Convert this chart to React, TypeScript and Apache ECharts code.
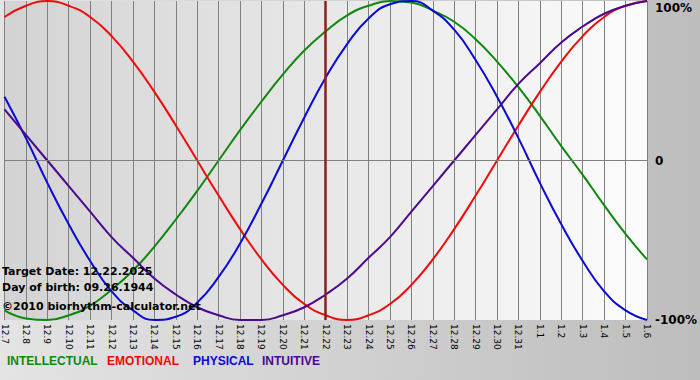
import React, { useEffect, useRef } from 'react';
import * as echarts from 'echarts';

// Day labels (month.day)
const dates = [
  '12.7', '12.8', '12.9', '12.10', '12.11', '12.12', '12.13', '12.14', '12.15', '12.16',
  '12.17', '12.18', '12.19', '12.20', '12.21', '12.22', '12.23', '12.24', '12.25', '12.26',
  '12.27', '12.28', '12.29', '12.30', '12.31', '1.1', '1.2', '1.3', '1.4', '1.5', '1.6',
];

// Values (-1 = -100%, 1 = 100%)
const intellectual = [
  -0.94, -0.99, -1.0, -0.97, -0.91, -0.81, -0.69, -0.54, -0.37, -0.19,
  0.0, 0.19, 0.37, 0.54, 0.69, 0.81, 0.91, 0.97, 1.0, 0.99,
  0.94, 0.87, 0.76, 0.62, 0.46, 0.28, 0.09, -0.09, -0.28, -0.46, -0.62,
];
const emotional = [
  0.9, 0.97, 1.0, 0.97, 0.9, 0.78, 0.62, 0.43, 0.22, 0.0,
  -0.22, -0.43, -0.62, -0.78, -0.9, -0.97, -1.0, -0.97, -0.9, -0.78,
  -0.62, -0.43, -0.22, 0.0, 0.22, 0.43, 0.62, 0.78, 0.9, 0.97, 1.0,
];
const physical = [
  0.4, 0.14, -0.14, -0.4, -0.63, -0.82, -0.94, -1.0, -0.98, -0.89,
  -0.73, -0.52, -0.27, 0.0, 0.27, 0.52, 0.73, 0.89, 0.98, 1.0,
  0.94, 0.82, 0.63, 0.4, 0.14, -0.14, -0.4, -0.63, -0.82, -0.94, -1.0,
];
const intuitive = [
  0.32, 0.16, 0.0, -0.16, -0.32, -0.48, -0.61, -0.74, -0.84, -0.92,
  -0.97, -1.0, -1.0, -0.97, -0.92, -0.84, -0.74, -0.61, -0.48, -0.32,
  -0.16, 0.0, 0.16, 0.32, 0.48, 0.61, 0.74, 0.84, 0.92, 0.97, 1.0,
];

const seriesNames = ['INTELLECTUAL', 'EMOTIONAL', 'PHYSICAL', 'INTUITIVE'];
const seriesData = [intellectual, emotional, physical, intuitive];
const seriesColors = ['#0f870f', '#ee0a0a', '#0a0ad2', '#4b0a8c'];

const targetDay = '12.22';
const infoLines = ['Target Date: 12.22.2025', 'Day of birth: 09.26.1944', '\u00a92010 biorhythm-calculator.net'];
const yTickLabels: Record<string, string> = { '1': '100%', '0': '0', '-1': '-100%' };

export default function App() {
  const ref = useRef<HTMLDivElement>(null);

  useEffect(() => {
    if (!ref.current) return;
    const chart = echarts.init(ref.current, null, { renderer: 'svg' });

    const infoY = [271, 287, 306];
    const legendX = [7, 107, 193, 262];

    const series: any[] = seriesNames.map((name, i) => ({
      name,
      type: 'line',
      data: seriesData[i],
      smooth: true,
      symbol: 'none',
      lineStyle: { color: seriesColors[i], width: 2 },
      itemStyle: { color: seriesColors[i] },
      z: 3,
    }));

    series.unshift({
      name: 'markers',
      type: 'line',
      data: [],
      symbol: 'none',
      z: 2,
      markLine: {
        silent: true,
        symbol: ['none', 'none'],
        label: { show: false },
        animation: false,
        data: [
          { yAxis: 0, lineStyle: { color: '#808080', width: 1, type: 'solid' } },
          { xAxis: targetDay, lineStyle: { color: '#862020', width: 2.5, type: 'solid' } },
        ],
      },
    });

    const graphic: any[] = [];
    infoLines.forEach((t, i) => {
      graphic.push({
        type: 'text',
        x: 2,
        y: infoY[i],
        z: 100,
        silent: true,
        style: {
          text: t,
          font: 'bold 11px "DejaVu Sans"',
          fill: '#000',
          verticalAlign: 'middle',
        },
      });
    });
    seriesNames.forEach((name, i) => {
      graphic.push({
        type: 'text',
        x: legendX[i],
        y: 361,
        z: 100,
        silent: true,
        style: {
          text: name,
          font: 'bold 12px "Liberation Sans"',
          fill: seriesColors[i],
          verticalAlign: 'middle',
        },
      });
    });

    chart.setOption({
      animation: false,
      backgroundColor: 'transparent',
      grid: {
        left: 1,
        right: 50,
        top: 1,
        bottom: 60,
        show: true,
        borderWidth: 0,
        backgroundColor: new echarts.graphic.LinearGradient(0, 0, 1, 0, [
          { offset: 0, color: '#d3d3d3' },
          { offset: 1, color: '#fcfcfc' },
        ]),
      },
      xAxis: {
        type: 'category',
        data: dates,
        boundaryGap: false,
        axisLine: { show: false },
        axisTick: { show: true, length: 4, lineStyle: { color: '#808080' } },
        axisLabel: {
          interval: 0,
          rotate: -90,
          fontSize: 9,
          fontFamily: 'DejaVu Sans',
          color: '#000',
          margin: 4,
        },
        splitLine: { show: true, lineStyle: { color: '#808080', width: 1 } },
      },
      yAxis: {
        type: 'value',
        min: -1,
        max: 1,
        interval: 1,
        position: 'right',
        axisLine: { show: false },
        axisTick: { show: false },
        splitLine: { show: false },
        axisLabel: {
          margin: 8,
          fontSize: 12,
          fontWeight: 'bold',
          fontFamily: 'DejaVu Sans',
          color: '#000',
          formatter: (v: number) => {
            const s = yTickLabels[String(v)] ?? '';
            return v === 1 ? '{t|' + s + '}' : s;
          },
          rich: {
            t: {
              fontSize: 12,
              fontWeight: 'bold',
              fontFamily: 'DejaVu Sans',
              color: '#000',
              padding: [14, 0, 0, 0],
            },
          },
        },
      },
      series,
      graphic,
    });

    return () => chart.dispose();
  }, []);

  return (
    <div
      ref={ref}
      style={{
        position: 'absolute',
        left: 0,
        top: 0,
        width: 700,
        height: 380,
        background: 'linear-gradient(to right, #e4e4e4, #bdbdbd)',
      }}
    />
  );
}
